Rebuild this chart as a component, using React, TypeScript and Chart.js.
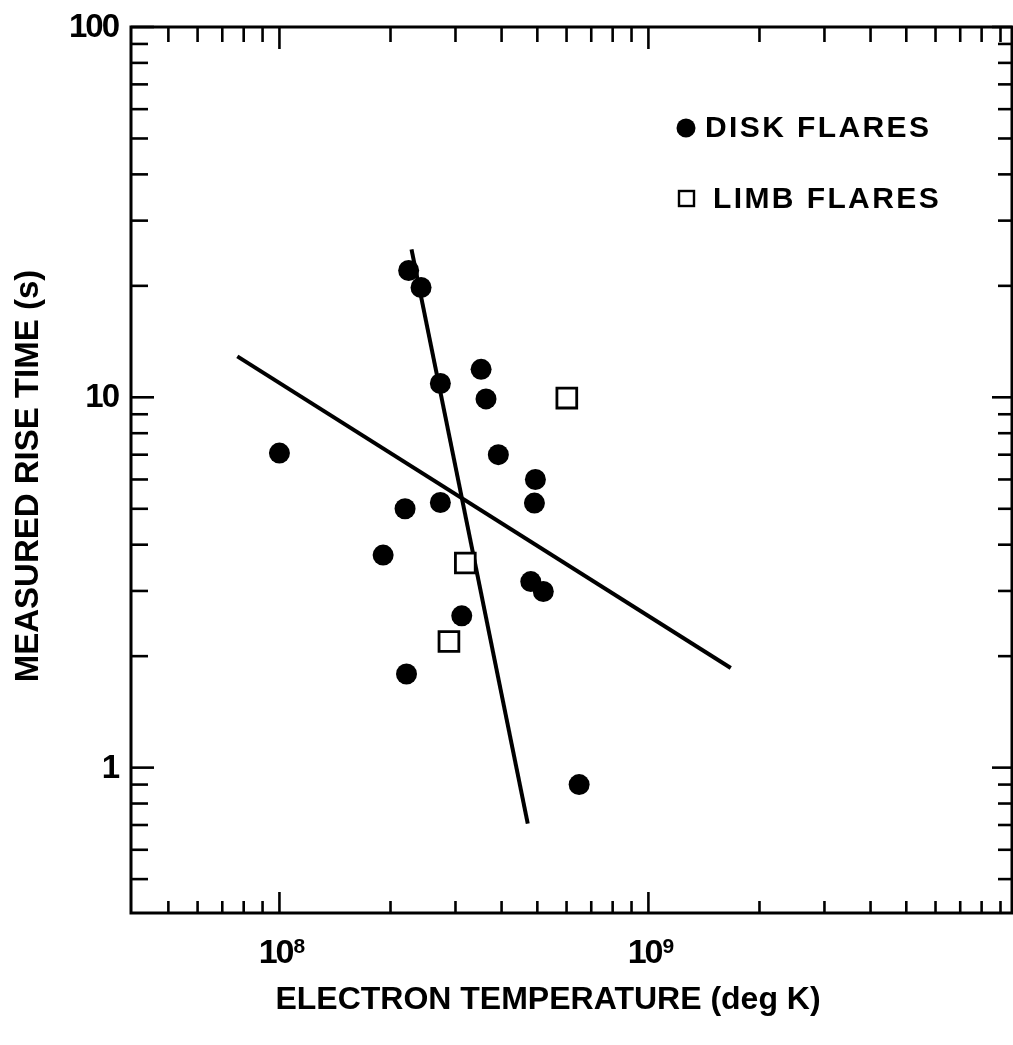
import React, { useEffect, useRef } from "react";
import { Chart, registerables } from "chart.js";

Chart.register(...registerables);

// ---- data ----
const diskTemp = [2.24e8, 2.42e8, 1.0e8, 3.52e8, 2.73e8, 3.63e8, 3.92e8, 4.94e8, 4.91e8, 2.73e8, 2.19e8, 1.91e8, 4.8e8, 5.19e8, 3.12e8, 2.21e8, 6.49e8];
const diskRise = [22.0, 19.8, 7.07, 11.9, 10.9, 9.9, 7.0, 6.0, 5.18, 5.2, 5.0, 3.75, 3.18, 2.99, 2.57, 1.79, 0.9];
const limbTemp = [6.01e8, 3.19e8, 2.88e8];
const limbRise = [9.95, 3.57, 2.19];
const fitSteepTemp = [2.28e8, 4.71e8];
const fitSteepRise = [25.1, 0.706];
const fitShallowTemp = [7.69e7, 1.672e9];
const fitShallowRise = [12.9, 1.858];

// ---- axes ----
const xRange = [3.96e7, 9.67e9];
const yRange = [0.405, 100];
const xMajorTicks = [1e8, 1e9];
const xMajorExponents = ["8", "9"];
const xMinorTicks = [5e7, 6e7, 7e7, 8e7, 9e7, 2e8, 3e8, 4e8, 5e8, 6e8, 7e8, 8e8, 9e8, 2e9, 3e9, 4e9, 5e9, 6e9, 7e9, 8e9, 9e9];
const yMajorTicks = [1, 10, 100];
const yMajorLabels = ["1", "10", "100"];
const yMinorTicks = [0.5, 0.6, 0.7, 0.8, 0.9, 2, 3, 4, 5, 6, 7, 8, 9, 20, 30, 40, 50, 60, 70, 80, 90];
const xTitle = "ELECTRON TEMPERATURE (deg K)";
const yTitle = "MEASURED RISE TIME (s)";
const legendLabels = ["DISK FLARES", "LIMB FLARES"];

const FONT = "'Liberation Sans', Arial, Helvetica, sans-serif";

const framePlugin = {
  id: "frameTicks",
  afterDraw(chart: any) {
    const { ctx, chartArea: a, scales } = chart;
    const xs = scales.x;
    const ys = scales.y;
    ctx.save();
    ctx.strokeStyle = "#000";
    ctx.fillStyle = "#000";
    ctx.lineCap = "butt";
    const seg = (x1: number, y1: number, x2: number, y2: number) => {
      ctx.beginPath();
      ctx.moveTo(x1, y1);
      ctx.lineTo(x2, y2);
      ctx.stroke();
    };
    // frame
    ctx.lineWidth = 3;
    ctx.strokeRect(a.left, a.top, a.right - a.left, a.bottom - a.top);
    // ticks
    ctx.lineWidth = 2.6;
    xMinorTicks.forEach((v) => {
      const px = xs.getPixelForValue(v);
      seg(px, a.bottom, px, a.bottom - 12);
      seg(px, a.top, px, a.top + 15);
    });
    xMajorTicks.forEach((v) => {
      const px = xs.getPixelForValue(v);
      seg(px, a.bottom, px, a.bottom - 21);
      seg(px, a.top, px, a.top + 22);
    });
    yMinorTicks.forEach((v) => {
      const py = ys.getPixelForValue(v);
      seg(a.left, py, a.left + 17, py);
      seg(a.right, py, a.right - 14, py);
    });
    yMajorTicks.forEach((v) => {
      const py = ys.getPixelForValue(v);
      seg(a.left, py, a.left + 23, py);
      seg(a.right, py, a.right - 20, py);
    });

    // y tick labels
    ctx.font = `bold 33px ${FONT}`;
    (ctx as any).letterSpacing = "-2px";
    ctx.textAlign = "right";
    ctx.textBaseline = "middle";
    yMajorTicks.forEach((v, i) => {
      const py = ys.getPixelForValue(v);
      ctx.fillText(yMajorLabels[i], a.left - 13, py + 1);
    });

    // x tick labels 10^n
    xMajorTicks.forEach((v, i) => {
      const px = xs.getPixelForValue(v);
      ctx.font = `bold 34px ${FONT}`;
      (ctx as any).letterSpacing = "-2px";
      const w1 = ctx.measureText("10").width;
      ctx.font = `bold 21px ${FONT}`;
      (ctx as any).letterSpacing = "0px";
      const w2 = ctx.measureText(xMajorExponents[i]).width;
      const start = px - (w1 + w2) / 2 + 2;
      ctx.textAlign = "left";
      ctx.textBaseline = "alphabetic";
      ctx.font = `bold 34px ${FONT}`;
      (ctx as any).letterSpacing = "-2px";
      ctx.fillText("10", start, a.bottom + 50);
      ctx.font = `bold 21px ${FONT}`;
      (ctx as any).letterSpacing = "0px";
      ctx.fillText(xMajorExponents[i], start + w1 + 1, a.bottom + 40);
    });

    // axis titles
    (ctx as any).letterSpacing = "0px";
    ctx.font = `bold 32px ${FONT}`;
    ctx.textAlign = "center";
    ctx.textBaseline = "middle";
    ctx.fillText(xTitle, 548, 1000);

    ctx.save();
    ctx.translate(29, 476);
    ctx.rotate(-Math.PI / 2);
    ctx.font = `bold 33px ${FONT}`;
    ctx.fillText(yTitle, 0, 0);
    ctx.restore();

    // legend
    ctx.beginPath();
    ctx.arc(686, 128, 9.5, 0, Math.PI * 2);
    ctx.fill();
    ctx.lineWidth = 2.4;
    ctx.fillStyle = "#fff";
    ctx.fillRect(679, 191, 15, 15);
    ctx.strokeRect(679, 191, 15, 15);
    ctx.fillStyle = "#000";
    ctx.font = `bold 30px ${FONT}`;
    (ctx as any).letterSpacing = "2.4px";
    ctx.textAlign = "left";
    ctx.textBaseline = "middle";
    ctx.fillText(legendLabels[0], 705, 129);
    ctx.fillText(legendLabels[1], 713, 200);
    ctx.restore();
  },
};

export default function App() {
  const ref = useRef<HTMLCanvasElement | null>(null);
  useEffect(() => {
    if (!ref.current) return;
    const chart = new Chart(ref.current, {
      type: "scatter",
      data: {
        datasets: [
          {
            label: legendLabels[0],
            data: diskTemp.map((x, i) => ({ x, y: diskRise[i] })),
            pointStyle: "circle",
            pointRadius: 10.5,
            pointBackgroundColor: "#000",
            pointBorderColor: "#000",
            pointBorderWidth: 0,
            showLine: false,
          },
          {
            label: legendLabels[1],
            data: limbTemp.map((x, i) => ({ x, y: limbRise[i] })),
            pointStyle: "rect",
            pointRadius: 14,
            pointBackgroundColor: "#fff",
            pointBorderColor: "#000",
            pointBorderWidth: 2.8,
            showLine: false,
          },
          {
            label: "fit steep",
            data: fitSteepTemp.map((x, i) => ({ x, y: fitSteepRise[i] })),
            showLine: true,
            borderColor: "#000",
            borderWidth: 4,
            pointRadius: 0,
            fill: false,
          },
          {
            label: "fit shallow",
            data: fitShallowTemp.map((x, i) => ({ x, y: fitShallowRise[i] })),
            showLine: true,
            borderColor: "#000",
            borderWidth: 4,
            pointRadius: 0,
            fill: false,
          },
        ],
      },
      options: {
        animation: false,
        responsive: false,
        devicePixelRatio: 1,
        events: [],
        layout: { autoPadding: false, padding: { left: 131, top: 27, right: 1, bottom: 132 } },
        plugins: { legend: { display: false }, tooltip: { enabled: false } },
        scales: {
          x: { type: "logarithmic", min: xRange[0], max: xRange[1], display: false },
          y: { type: "logarithmic", min: yRange[0], max: yRange[1], display: false },
        },
      },
      plugins: [framePlugin],
    } as any);
    return () => chart.destroy();
  }, []);
  return (
    <div style={{ position: "absolute", left: 0, top: 0, width: 1013, height: 1045, background: "#fff" }}>
      <canvas ref={ref} width={1013} height={1045} style={{ display: "block" }} />
    </div>
  );
}
